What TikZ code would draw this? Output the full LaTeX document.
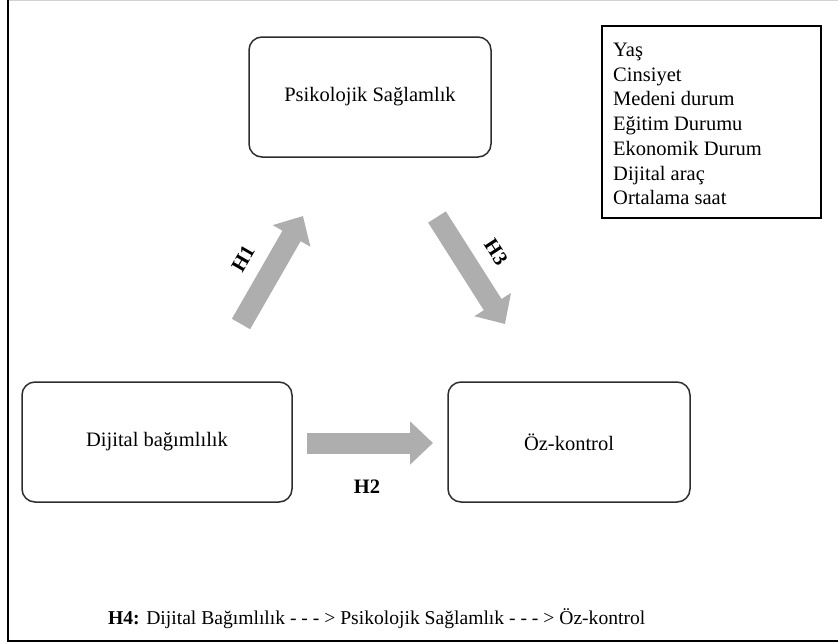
\documentclass[tikz,border=0pt]{standalone}
\usepackage{fontspec}
\setmainfont{Liberation Serif}
\usetikzlibrary{arrows.meta}
\definecolor{arrowgray}{RGB}{174,174,174}
\definecolor{boxline}{RGB}{45,45,45}
\tikzset{
  rbox/.style={draw=boxline, line width=1.5pt, rounded corners=13pt, minimum width=242pt, minimum height=120pt, inner sep=0pt},
  blockarrow/.style={draw=arrowgray, line width=21pt, -{Triangle[width=42pt,length=23pt]}},
  hlabel/.style={font=\fontsize{20.5}{24.7}\selectfont\bfseries, inner sep=0pt},
}
\begin{document}
\begin{tikzpicture}[x=1pt,y=-1pt, every node/.style={font=\fontsize{20.5}{24.7}\selectfont}]
\useasboundingbox (0,0) rectangle (838,643);
% outer frame
\draw[gray!35, line width=1pt] (8,0.5) -- (838,0.5);
\draw[black, line width=1.6pt] (8,0) -- (8,641) -- (840,641);
% boxes
\node[rbox] (psi) at (370,97) {Psikolojik Sağlamlık};
\node[rbox, minimum width=270pt] (dij) at (157,442) {Dijital bağımlılık};
\node[rbox] (oz) at (569,442) {Öz-kontrol};
\node[draw=black, line width=1.5pt, minimum width=219pt, minimum height=192pt, anchor=north west, inner sep=0pt] (cov) at (601,25) {};
\node[anchor=west, align=left, inner sep=0pt] (covtext) at (613,124)
  {Yaş\\Cinsiyet\\Medeni durum\\Eğitim Durumu\\Ekonomik Durum\\Dijital araç\\Ortalama saat};
% arrows
\coordinate (h1s) at (241,324);
\coordinate (h1e) at (303,216);
\coordinate (h2s) at (307,443);
\coordinate (h2e) at (433,443);
\coordinate (h3s) at (437,217);
\coordinate (h3e) at (505,324);
\draw[blockarrow] (h1s) -- (h1e);
\draw[blockarrow] (h2s) -- (h2e);
\draw[blockarrow] (h3s) -- (h3e);
% labels
\node[hlabel, rotate=60] (l1) at (243,259) {H1};
\node[hlabel] (l2) at (367,487) {H2};
\node[hlabel, rotate=-57] (l3) at (496,252) {H3};
\node[anchor=west, inner sep=0pt, font=\fontsize{19.6}{23}\selectfont] (h4) at (108,619)
  {\textbf{H4:} Dijital Bağımlılık - - - > Psikolojik Sağlamlık - - - > Öz-kontrol};
\end{tikzpicture}
\end{document}
